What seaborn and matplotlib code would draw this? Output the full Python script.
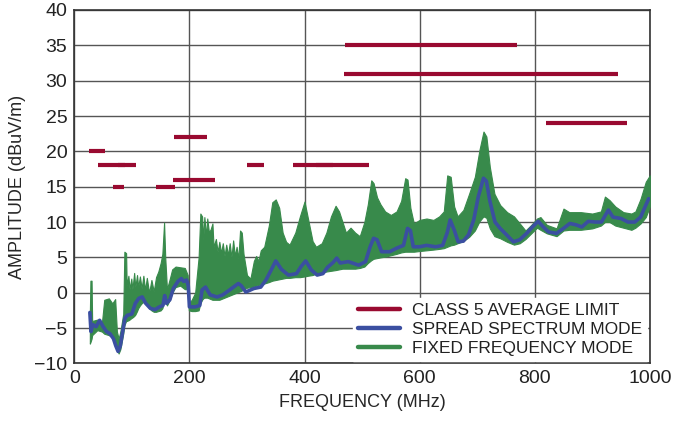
import numpy as np
import pandas as pd
import matplotlib
matplotlib.use("Agg")
import matplotlib.pyplot as plt
from matplotlib.lines import Line2D
import seaborn as sns

# ---- data ----
# Class 5 average limit segments: start MHz, end MHz, level dBuV/m
limit_start = [26, 41, 76, 68, 142, 174, 171, 300, 380, 420, 470, 468, 820]
limit_end = [53, 88, 108, 87, 175, 230, 245, 330, 512, 450, 770, 944, 960]
limit_level = [20, 18, 18, 15, 15, 22, 16, 18, 18, 18, 35, 31, 24]

# Fixed frequency mode: envelope of the trace (MHz, upper, lower)
fixed_freq = [27, 28, 30, 31, 40, 48, 52, 60, 66, 71, 74, 77, 80,
              85, 87, 90, 91, 94, 96, 99, 101, 104, 106, 109, 111, 114, 117, 120, 123, 126,
              130, 134, 138, 142, 146, 150, 153, 156, 158, 161, 166, 170, 176, 184, 192, 197,
              199, 204, 210, 216, 219, 222, 224, 226, 229, 231, 234, 237, 240, 242, 246, 249,
              252, 255, 258, 261, 264, 267, 270, 273, 276, 279, 282, 285, 288, 291, 294, 300,
              306, 312, 316, 320, 324, 330,
              338, 344, 350, 356, 362, 368, 374, 384, 392, 400, 406, 414, 420, 430, 438, 446,
              454, 460, 466, 472, 480, 488, 496, 504, 510, 516, 520, 526, 532, 540, 550, 560,
              568, 575, 579, 584, 590, 600, 612, 624, 634, 642, 648, 654, 660, 666, 676, 686,
              696, 704, 711, 716, 722, 730, 740, 752, 764, 774, 784, 794, 804, 810, 821, 838,
              850, 860, 880, 900, 915, 922, 930, 940, 954, 968, 975, 984, 993, 1000]
fixed_upper = [-3.0, 1.7, 1.7, -4.0, -3.8, -4.2, -1.0, -0.8, -1.5, -0.9, -5.5, -6.5, -5.5,
               -3.0, 5.8, 5.6, 1.0, 2.4, 0.5, 2.0, 0.5, 2.8, 0.8, 2.5, 0.8, 2.3, 0.6, 2.4,
               0.4, 2.1, 0.0, 1.8, 0.2, 2.2, 3.0, 4.2, 5.5, 9.9, 5.0, 0.5, 2.0, 3.3, 3.7, 3.6,
               3.5, 2.5,
               -1.5, -1.0, 0.0, 5.0, 11.2, 10.8, 7.5, 10.7, 8.0, 10.5, 8.5, 9.0, 9.8, 6.5,
               7.6, 5.8, 7.2, 5.6, 7.0, 5.2, 6.8, 5.3, 7.0, 5.0, 7.4, 5.2, 6.5, 4.8, 8.8, 8.5,
               5.5, 2.5, 2.0, 4.5, 5.2, 4.5, 6.0, 6.5,
               9.5, 12.8, 13.2, 12.0, 8.5, 7.2, 6.8, 8.5, 10.8, 12.9, 10.5, 7.3, 6.5, 7.0, 8.5,
               10.8, 12.3, 11.5, 10.0, 8.5, 9.2, 8.5, 8.0, 10.0, 12.5, 15.9, 15.5, 13.5, 12.5,
               11.5, 11.0, 11.5, 13.0, 16.2, 16.0, 12.0, 9.8, 10.3, 10.5, 10.3, 10.8, 11.5,
               16.6, 16.4, 12.2, 10.8, 11.7, 14.0, 16.4, 20.2, 22.8, 22.1, 17.8, 14.0, 12.4,
               11.4, 10.8, 9.8, 8.8, 9.6, 10.5, 10.7, 9.6, 9.1, 11.9, 11.4, 11.4, 11.2, 11.5,
               13.6, 13.1, 12.2, 11.4, 11.2, 11.5, 13.3, 15.7, 16.6]
fixed_lower = [-7.2, -7.0, -6.5, -6.0, -5.3, -5.5, -5.8, -6.0, -6.3, -6.8, -8.0, -8.6, -8.0,
               -5.8, -4.6, -4.0, -4.0, -3.9, -3.8, -3.6, -3.5, -3.3, -3.1, -2.6, -2.2, -1.8,
               -1.5, -1.3, -1.4, -1.7, -2.2, -2.5, -2.7, -2.7, -2.6, -2.5, -2.2, -1.2, -1.2,
               -1.8, -1.0, 0.0, 0.8, 1.0, 0.5, 0.5,
               -2.5, -2.6, -2.6, -2.5, -1.5, -1.0, -0.8, -0.7, -0.7, -0.7, -0.8, -0.9, -1.0,
               -1.0, -1.0, -1.0, -1.0, -0.9, -0.8, -0.7, -0.6, -0.5, -0.4, -0.3, -0.2, -0.1,
               0.0, 0.1, 0.2, 0.3, 0.5, 0.7, 0.8, 0.9, 1.0, 1.1, 1.2, 1.3,
               1.5, 1.7, 1.8, 1.9, 2.0, 2.1, 2.1, 2.2, 2.2, 2.3, 2.4, 2.5, 2.7, 2.8, 3.0, 3.1,
               3.2, 3.3, 3.4, 3.4, 3.4, 3.4, 3.5, 3.7, 4.2, 4.6, 4.8, 4.9, 5.0, 5.1, 5.3, 5.5,
               5.7, 5.8, 5.8, 5.8, 5.8, 5.9, 6.0, 6.1, 6.2, 6.3, 6.5, 6.7, 6.8, 7.0, 7.3, 7.9,
               8.8, 10.1, 10.8, 10.6, 9.1, 8.0, 7.7, 7.2, 6.8, 7.0, 7.6, 8.4, 9.2, 8.9, 8.4,
               8.0, 8.8, 8.9, 8.9, 9.1, 9.5, 10.0, 10.0, 9.5, 9.2, 8.9, 9.2, 9.8, 10.7, 12.2]

# Spread spectrum mode trace
spread_freq = [27, 29, 32, 38, 44, 50, 56, 62, 68, 72, 76, 80, 84, 88, 92, 100, 106, 112, 118,
               124, 132, 140, 148, 154, 157, 160, 166, 172, 180, 186, 190, 195, 198, 200, 210,
               218, 222, 228, 236, 248, 258, 270, 285, 290, 298, 312, 324, 333, 342, 350, 360,
               372, 386, 394, 402, 412, 422, 432, 440, 450, 456, 462, 476, 494, 506, 514, 520,
               526, 534, 548, 560, 572, 579, 584, 589, 600, 612, 628, 640, 648, 653, 660, 667,
               676, 685, 694, 702, 711, 716, 722, 731, 740, 751, 763, 774, 786, 796, 806, 815,
               824, 838, 850, 861, 872, 882, 893, 905, 916, 928, 936, 950, 962, 974, 984, 992,
               998]
spread_level = [-2.8, -5.5, -4.5, -4.8, -3.9, -4.8, -5.5, -5.8, -6.5, -7.5, -8.3, -7.5, -5.5,
                -3.6, -3.2, -3.0, -1.5, -0.8, -0.6, -1.5, -2.2, -2.4, -2.0, -1.8, -0.4, -1.5,
                -1.0, 0.6, 1.6, 2.0, 1.6, 1.8, 1.0, -2.0, -2.0, -1.8, 0.4, 0.8, -0.3, -0.6,
                -0.3, 0.4, 1.3, 1.0, 0.1, 0.6, 0.8, 1.8, 3.2, 4.5, 3.3, 2.5, 2.7, 3.7, 4.5,
                3.2, 2.5, 2.7, 3.6, 4.3, 4.9, 4.2, 4.4, 3.9, 4.4, 6.5, 7.7, 7.5, 5.8, 5.8, 6.3,
                6.7, 9.1, 8.8, 6.5, 6.5, 6.7, 6.5, 6.7, 8.5, 10.3, 8.9, 7.2, 7.3, 8.2, 10.3,
                13.6, 16.2, 15.8, 13.0, 10.0, 9.1, 8.2, 7.2, 7.5, 8.4, 9.3, 10.1, 9.3, 8.6, 8.4,
                9.1, 9.8, 9.6, 9.3, 10.1, 10.0, 10.0, 11.7, 10.7, 10.5, 10.0, 10.0, 10.7, 12.2,
                13.3]

x_ticks = [0, 200, 400, 600, 800, 1000]
y_ticks = [-10, -5, 0, 5, 10, 15, 20, 25, 30, 35, 40]
legend_labels = ["CLASS 5 AVERAGE LIMIT", "SPREAD SPECTRUM MODE", "FIXED FREQUENCY MODE"]

# ---- style ----
RED = "#990a30"
BLUE = "#3b4fa1"
GREEN = "#388a4b"

sns.set_style("white")
plt.rcParams["font.family"] = ["Liberation Sans Narrow", "Liberation Sans", "DejaVu Sans"]
plt.rcParams["text.color"] = "#222222"

fig = plt.figure(figsize=(6.83, 4.23), dpi=100)
ax = fig.add_axes([0.1088, 0.1409, 0.8426, 0.8355])

seg_rows = []
for i, (s, e, lv) in enumerate(zip(limit_start, limit_end, limit_level)):
    seg_rows.append({"f": s, "v": lv, "seg": i})
    seg_rows.append({"f": e, "v": lv, "seg": i})
seg_df = pd.DataFrame(seg_rows)

fixed_df = pd.DataFrame({"f": fixed_freq, "up": fixed_upper, "lo": fixed_lower})
spread_df = pd.DataFrame({"f": spread_freq, "v": spread_level})

ax.fill_between(fixed_df["f"], fixed_df["lo"], fixed_df["up"], color=GREEN, lw=0.8,
                edgecolor=GREEN, zorder=3)
sns.lineplot(data=spread_df, x="f", y="v", color=BLUE, lw=2.6, ax=ax, zorder=4,
             estimator=None, sort=False)
sns.lineplot(data=seg_df, x="f", y="v", units="seg", estimator=None, color=RED, lw=3.0,
             ax=ax, zorder=5, solid_capstyle="butt")

ax.set_xlim(0, 1000)
ax.set_ylim(-10, 40)
ax.set_xticks(x_ticks)
ax.set_yticks(y_ticks)
ax.set_xticklabels([str(t) for t in x_ticks])
ax.set_yticklabels([str(t).replace("-", "\u2212") for t in y_ticks])
ax.grid(True, color="#555555", lw=1.0, zorder=1)
ax.set_axisbelow(True)
ax.tick_params(axis="both", length=0, pad=5, labelsize=14, labelcolor="#222222")
for sp in ax.spines.values():
    sp.set_color("#333333")
    sp.set_linewidth(1.2)

ax.set_xlabel("FREQUENCY (MHz)", fontsize=13, labelpad=5)
ax.set_ylabel("AMPLITUDE (dBuV/m)", fontsize=13, labelpad=6)

handles = [Line2D([], [], color=RED, lw=3.2),
           Line2D([], [], color=BLUE, lw=3.2),
           Line2D([], [], color=GREEN, lw=3.2)]
leg = ax.legend(handles, legend_labels, loc="lower right", fontsize=12.5,
                frameon=True, fancybox=False, framealpha=1, facecolor="white",
                edgecolor="white", borderaxespad=0.15, labelspacing=0.2,
                handlelength=2.4, handletextpad=0.7, borderpad=0.3)
leg.set_zorder(10)

fig.savefig("out.png", dpi=100)
